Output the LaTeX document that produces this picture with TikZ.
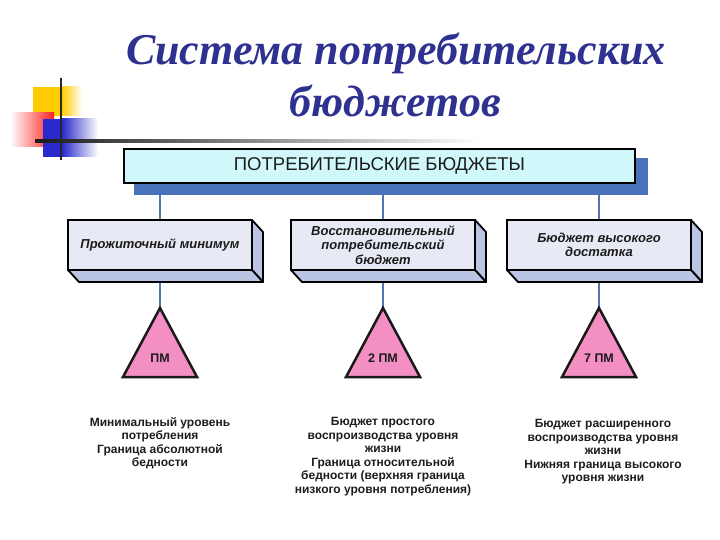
\documentclass[tikz,border=0pt]{standalone}
\usepackage{fontspec}
\setmainfont{Liberation Sans}
\newfontfamily\titlefont{Liberation Serif}
\usetikzlibrary{backgrounds}
\definecolor{titleblue}{HTML}{2E3190}
\definecolor{decoyellow}{HTML}{FFCC00}
\definecolor{decored}{HTML}{FF2020}
\definecolor{decoblue}{HTML}{2A2ACC}
\definecolor{topcyan}{HTML}{D0F8FA}
\definecolor{shadowblue}{HTML}{4A72BA}
\definecolor{frontgray}{HTML}{E7E9F4}
\definecolor{sidegray}{HTML}{B9C5E2}
\definecolor{connblue}{HTML}{5078B0}
\definecolor{pinktri}{HTML}{F48FC4}
\definecolor{textdark}{HTML}{1C1C1C}
\tikzset{
  titlestyle/.style={font=\titlefont\bfseries\itshape\fontsize{44}{50}\selectfont, text=titleblue, inner sep=0pt},
  topbox/.style={draw=black, line width=2pt, fill=topcyan, minimum width=511pt, minimum height=34pt, inner sep=0pt, outer sep=0pt, font=\fontsize{18.5}{20}\selectfont, text=textdark},
  frontbox/.style={draw=black, line width=1.8pt, fill=frontgray, minimum width=184pt, minimum height=50pt, inner sep=0pt, outer sep=0pt, align=center, font=\bfseries\itshape\fontsize{13}{14.5}\selectfont, text=textdark},
  face/.style={draw=black, line width=1.8pt, fill=sidegray, line join=round},
  conn/.style={draw=connblue, line width=2.2pt},
  tri/.style={draw=black!90, line width=2.5pt, fill=pinktri, line join=miter},
  trilabel/.style={font=\bfseries\fontsize{12.5}{14}\selectfont, text=textdark, inner sep=0pt},
  desc/.style={align=center, font=\bfseries\fontsize{12}{13.6}\selectfont, text=textdark, inner sep=0pt}
}
\begin{document}
\begin{tikzpicture}[x=1pt,y=-1pt]
\useasboundingbox (0,0) rectangle (720,540);

% decoration
\fill[decoyellow] (33,87) rectangle (62,116);
\shade[left color=decoyellow, right color=white] (62,87) rectangle (82,116);
\shade[left color=white, right color=decored] (10,113) rectangle (54,147);
\fill[decoblue] (43,119) rectangle (62,157);
\shade[left color=decoblue, right color=white] (62,119) rectangle (98,157);
\draw[line width=2.2pt, black!85] (61,78) -- (61,160);
\shade[left color=black!90, right color=white] (35,139.8) rectangle (480,142.2);

% title
\node[titlestyle, anchor=base] (title1) at (396,65) {Система потребительских};
\node[titlestyle, anchor=base] (title2) at (395,117) {бюджетов};

% top box
\fill[shadowblue] (134,158) rectangle (648,195);
\node[topbox] (top) at (379.5,166) {ПОТРЕБИТЕЛЬСКИЕ БЮДЖЕТЫ};

% 3D boxes
\node[frontbox] (b1) at (160,245) {Прожиточный минимум};
\node[frontbox] (b2) at (383,245) {Восстановительный\\потребительский\\бюджет};
\node[frontbox] (b3) at (599,245) {Бюджет высокого\\достатка};
\foreach \b in {b1,b2,b3} {
  \path[face] (\b.north east) -- ++(11,12) -- ++(0,50) -- (\b.south east) -- cycle;
  \path[face] (\b.south west) -- (\b.south east) -- ++(11,12) -- ++(-184,0) -- cycle;
}

% triangles
\coordinate (t1) at (160,308);
\coordinate (t2) at (383,308);
\coordinate (t3) at (599,308);
\path[tri] (t1) -- (197,377) -- (123,377) -- cycle;
\path[tri] (t2) -- (420,377) -- (346,377) -- cycle;
\path[tri] (t3) -- (636,377) -- (562,377) -- cycle;
\node[trilabel] (l1) at (160,358) {ПМ};
\node[trilabel] (l2) at (383,358) {2 ПМ};
\node[trilabel] (l3) at (599,358) {7 ПМ};

% descriptions
\node[desc, anchor=north] (d1) at (160,417) {Минимальный уровень\\потребления\\Граница абсолютной\\бедности};
\node[desc, anchor=north] (d2) at (383,417) {Бюджет простого\\воспроизводства уровня\\жизни\\Граница относительной\\бедности (верхняя граница\\низкого уровня потребления)};
\node[desc, anchor=north] (d3) at (603,419) {Бюджет расширенного\\воспроизводства уровня\\жизни\\Нижняя граница высокого\\уровня жизни};

% connectors
\begin{scope}[on background layer]
\draw[conn] (top.south -| b1.north) -- (b1.north);
\draw[conn] (top.south -| b2.north) -- (b2.north);
\draw[conn] (top.south -| b3.north) -- (b3.north);
\draw[conn] (b1.south) -- (t1);
\draw[conn] (b2.south) -- (t2);
\draw[conn] (b3.south) -- (t3);
\end{scope}
\end{tikzpicture}
\end{document}
